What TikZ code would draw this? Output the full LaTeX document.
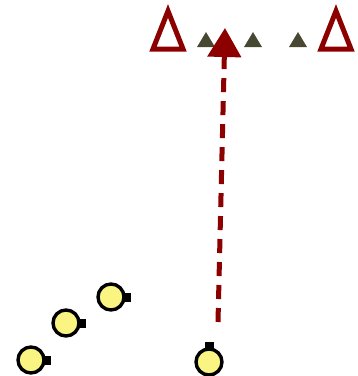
\documentclass[tikz,border=0pt]{standalone}
\usetikzlibrary{arrows.meta,positioning}
\definecolor{deepred}{RGB}{140,0,0}
\definecolor{olive}{RGB}{72,72,50}
\definecolor{bulb}{RGB}{250,245,130}
\begin{document}
\begin{tikzpicture}[x=1pt,y=-1pt,
    site/.style={circle,draw=black,line width=3.4pt,fill=bulb,
      minimum size=26pt,inner sep=0pt},
    stub/.style={fill=black,minimum width=7pt,minimum height=9pt,inner sep=0pt},
    bigtri/.style={draw=deepred,line width=5pt,line join=miter},
    smalltri/.style={fill=olive},
    arr/.style={-{Triangle[length=29pt,width=33pt]},deepred,
      line width=5pt,dash pattern=on 14pt off 9pt}
  ]
    \useasboundingbox (0,0) rectangle (358,376);

    % outline triangles
    \draw[bigtri] (168,11) -- (183,49) -- (153,49) -- cycle;
    \draw[bigtri] (336,11) -- (351,49) -- (321,49) -- cycle;

    % small triangles
    \foreach \x in {206,253,298}
      \fill[smalltri] (\x,32) -- (\x+9,47) -- (\x-9,47) -- cycle;

    % sites
    \node[site] (s1) at (31,360) {};
    \node[stub,anchor=west,xshift=-2pt] at (s1.east) {};
    \node[site] (s2) at (66,323) {};
    \node[stub,anchor=west,xshift=-2pt] at (s2.east) {};
    \node[site] (s3) at (111,297) {};
    \node[stub,anchor=west,xshift=-2pt] at (s3.east) {};
    \node[site] (s4) at (209,362) {};
    \node[stub,anchor=south,yshift=-2pt,minimum width=9pt,minimum height=7pt] at (s4.north) {};

    \coordinate (base) at (218,322);
    \coordinate (tip) at (225,28);
    \draw[arr] (base) -- (tip);
  \end{tikzpicture}
\end{document}
